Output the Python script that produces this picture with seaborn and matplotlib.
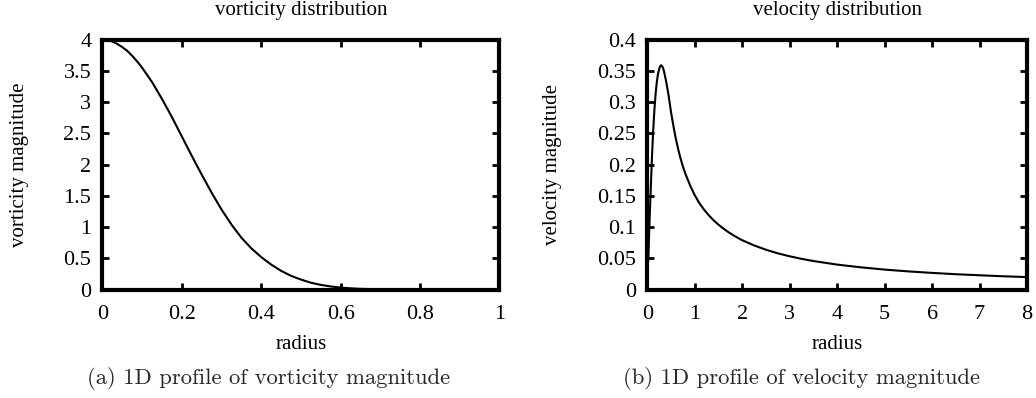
import matplotlib
matplotlib.use("Agg")
import matplotlib.pyplot as plt
import seaborn as sns
import pandas as pd

# ---- data ----
vort_radius = [0.000, 0.0125, 0.025, 0.0375, 0.050, 0.0625, 0.075, 0.0875, 0.100,
               0.125, 0.150, 0.175, 0.200,
               0.225, 0.250, 0.275, 0.300, 0.325, 0.350, 0.375, 0.400, 0.425,
               0.450, 0.475, 0.500, 0.525, 0.550, 0.575, 0.600, 0.625, 0.650,
               0.700, 0.750, 0.800, 0.900, 1.000]
vort_value = [4.00, 3.99, 3.97, 3.93, 3.88, 3.82, 3.74, 3.65, 3.55,
              3.32, 3.05, 2.76, 2.45,
              2.14, 1.84, 1.55, 1.28, 1.04, 0.83, 0.66, 0.52, 0.40,
              0.30, 0.22, 0.16, 0.11, 0.075, 0.05, 0.032, 0.02, 0.012,
              0.004, 0.001, 0.0, 0.0, 0.0]

vel_radius = [0.02, 0.05, 0.075, 0.10, 0.125, 0.15, 0.175, 0.20, 0.225, 0.25,
              0.27, 0.29, 0.31, 0.33, 0.35, 0.37, 0.40, 0.45, 0.50, 0.55,
              0.60, 0.65, 0.70, 0.75, 0.80, 0.90, 1.00, 1.10, 1.20, 1.30,
              1.40, 1.50, 1.60, 1.70, 1.80, 1.90, 2.00, 2.25, 2.50, 2.75,
              3.00, 3.25, 3.50, 4.00, 4.50, 5.00, 5.50, 6.00, 6.50, 7.00,
              7.50, 8.00]
vel_value = [0.045, 0.115, 0.165, 0.215, 0.255, 0.288, 0.313, 0.332, 0.345, 0.353,
             0.357, 0.359, 0.358, 0.355, 0.350, 0.343, 0.332, 0.310, 0.284, 0.262,
             0.242, 0.225, 0.210, 0.197, 0.186, 0.167, 0.151, 0.138, 0.1275, 0.1185,
             0.1107, 0.1039, 0.0978, 0.0924, 0.0875, 0.0831, 0.0790, 0.0707, 0.0638, 0.0580,
             0.0533, 0.0492, 0.0457, 0.0400, 0.0356, 0.0320, 0.0291, 0.0267, 0.0246, 0.0229,
             0.0213, 0.0200]

vort_xticks = [0, 0.2, 0.4, 0.6, 0.8, 1.0]
vort_xlabels = ["0", "0.2", "0.4", "0.6", "0.8", "1"]
vort_yticks = [0, 0.5, 1, 1.5, 2, 2.5, 3, 3.5, 4]
vort_ylabels = ["0", "0.5", "1", "1.5", "2", "2.5", "3", "3.5", "4"]
vel_xticks = [0, 1, 2, 3, 4, 5, 6, 7, 8]
vel_xlabels = ["0", "1", "2", "3", "4", "5", "6", "7", "8"]
vel_yticks = [0, 0.05, 0.1, 0.15, 0.2, 0.25, 0.3, 0.35, 0.4]
vel_ylabels = ["0", "0.05", "0.1", "0.15", "0.2", "0.25", "0.3", "0.35", "0.4"]

sns.set_theme(style="ticks")
plt.rcParams["font.family"] = ["Liberation Serif", "DejaVu Serif"]

fig = plt.figure(figsize=(10.36, 3.98), dpi=100)
ax1 = fig.add_axes([0.0989, 0.2724, 0.3832, 0.628])
ax2 = fig.add_axes([0.6248, 0.2724, 0.3665, 0.628])

df_v = pd.DataFrame({"radius": vort_radius, "value": vort_value})
df_u = pd.DataFrame({"radius": vel_radius, "value": vel_value})

sns.lineplot(data=df_v, x="radius", y="value", ax=ax1, color="black", linewidth=1.5)
sns.lineplot(data=df_u, x="radius", y="value", ax=ax2, color="black", linewidth=1.5)

tfs = 16
lfs = 15
for ax, xt, xl, yt, yl, xlim, ylim, title, ylabel in [
    (ax1, vort_xticks, vort_xlabels, vort_yticks, vort_ylabels, (0, 1), (0, 4),
     "vorticity distribution", "vorticity magnitude"),
    (ax2, vel_xticks, vel_xlabels, vel_yticks, vel_ylabels, (0, 8), (0, 0.4),
     "velocity distribution", "velocity magnitude"),
]:
    ax.set_xlim(*xlim)
    ax.set_ylim(*ylim)
    ax.set_xticks(xt)
    ax.set_xticklabels(xl)
    ax.set_yticks(yt)
    ax.set_yticklabels(yl)
    ax.tick_params(direction="in", length=5, width=2, top=True, right=True,
                   labelsize=tfs, color="black", labelcolor="black")
    ax.tick_params(axis="y", pad=8)
    ax.tick_params(axis="x", pad=11)
    for s in ax.spines.values():
        s.set_visible(True)
        s.set_linewidth(3)
        s.set_color("black")
        s.set_zorder(5)
    ax.set_xlabel("radius", fontsize=lfs, labelpad=8, color="black")
    ax.set_ylabel(ylabel, fontsize=lfs, color="black")
    ax.set_title(title, fontsize=lfs, pad=18, color="black")
    ax.set_facecolor("white")

ax1.yaxis.set_label_coords(-0.185, 0.5)
ax2.yaxis.set_label_coords(-0.225, 0.5)

fig.text(269 / 1036, 1 - 378 / 398, "(a) 1D profile of vorticity magnitude",
         family="cmr10", fontsize=16.3, ha="center", va="center")
fig.text(801.5 / 1036, 1 - 378 / 398, "(b) 1D profile of velocity magnitude",
         family="cmr10", fontsize=16.3, ha="center", va="center")

fig.savefig("out.png", dpi=100, facecolor="white")
